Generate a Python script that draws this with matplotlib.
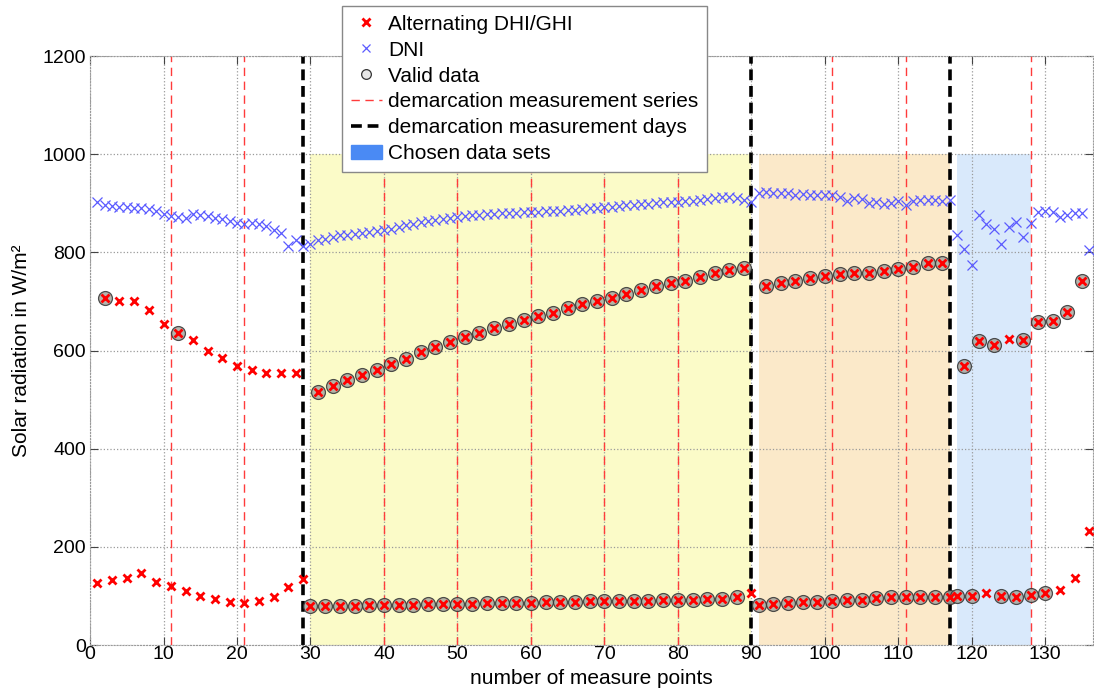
import numpy as np
from matplotlib import pyplot as plt
from matplotlib.lines import Line2D
from matplotlib.patches import Patch

plt.rcParams['font.family'] = ['Liberation Sans', 'DejaVu Sans']

# measure point index
points = np.arange(1, 137)

# alternating DHI / GHI readings (W/m²), one per measure point
alt_values = [
    127, 708, 132, 701, 137, 701, 146, 682, 129, 654,
    120, 635, 110, 621, 100, 599, 93, 585, 87, 568,
    85, 560, 90, 555, 97, 554, 118, 554, 134, 79,
    516, 79, 528, 80, 540, 80, 550, 81, 560, 82,
    572, 82, 583, 82, 598, 83, 608, 84, 617, 84,
    627, 84, 635, 85, 646, 85, 654, 86, 662, 86,
    671, 87, 677, 88, 686, 88, 694, 89, 701, 89,
    708, 89, 716, 90, 723, 90, 731, 91, 737, 91,
    742, 92, 749, 93, 757, 94, 764, 97, 769, 105,
    81, 732, 83, 737, 85, 742, 87, 748, 88, 752,
    90, 755, 92, 757, 92, 757, 95, 762, 97, 767,
    97, 771, 97, 778, 97, 779, 97, 100, 569, 100,
    619, 107, 612, 100, 623, 98, 621, 102, 659, 105,
    661, 113, 679, 137, 742, 232,
]

# direct normal irradiance (W/m²)
dni_values = [
    903, 897, 895, 893, 892, 891, 890, 888, 884, 878,
    875, 872, 871, 879, 876, 874, 871, 868, 864, 860,
    858, 859, 857, 853, 846, 840, 812, 826, 812, 818,
    825, 828, 832, 835, 836, 838, 840, 842, 843, 846,
    848, 852, 855, 858, 862, 864, 866, 868, 870, 873,
    874, 876, 877, 878, 879, 880, 880, 881, 882, 883,
    883, 884, 885, 885, 886, 887, 889, 890, 891, 892,
    893, 894, 896, 897, 898, 899, 900, 902, 903, 903,
    904, 905, 907, 908, 910, 912, 912, 910, 906, 902,
    920, 922, 921, 920, 921, 917, 918, 917, 916, 917,
    916, 913, 905, 910, 909, 901, 902, 899, 900, 905,
    896, 904, 906, 906, 906, 905, 906, 835, 806, 774,
    876, 858, 847, 818, 852, 861, 832, 859, 883, 884,
    882, 873, 876, 881, 880, 805,
]

# points that passed the validity check
valid_points = ([2, 12] + list(range(30, 90)) + list(range(91, 122))
                + [123, 124, 126, 127, 128, 129, 130, 131, 133, 135])

series_marks = [11, 21, 40, 50, 60, 70, 80, 101, 111, 128]
day_marks = [29, 90, 117]
chosen_start = [30, 91, 118]
chosen_end = [90, 117, 128]
chosen_colors = ['#fbfbc8', '#fbe9c9', '#d9e9fb']

alt_values = np.array(alt_values)
dni_values = np.array(dni_values)
valid = np.isin(points, valid_points)

fig = plt.figure(figsize=(10.94, 6.98), dpi=100)
ax = fig.add_axes([0.0823, 0.0759, 0.9168, 0.8438])

for s, e, c in zip(chosen_start, chosen_end, chosen_colors):
    ax.fill_between([s, e], 0, 1000, color=c, lw=0, zorder=0.5)

ax.set_axisbelow('line')
ax.grid(True, ls=':', color='#9a9a9a', lw=0.9)

for m in series_marks:
    ax.axvline(m, color='#ff3b3b', ls=(0, (6, 4)), lw=1.0, zorder=2)
for m in day_marks:
    ax.axvline(m, color='black', ls=(0, (3, 1.6)), lw=2.6, zorder=2)

ax.plot(points, dni_values, 'x', color='#5b5bff', ms=7, mew=0.9, zorder=3)
ax.plot(points[valid], alt_values[valid], 'o', ms=10, mfc='#a8a8a0',
        mec='#333333', mew=0.9, alpha=0.85, zorder=3)
ax.plot(points, alt_values, 'x', color='red', ms=6, mew=2, zorder=4)

ax.set_xlim(0, 136.5)
ax.set_ylim(0, 1200)
ax.set_xticks(np.arange(0, 131, 10))
ax.set_yticks(np.arange(0, 1201, 200))
ax.tick_params(direction='in', length=6, color='#444444', labelsize=14,
               top=True, right=True, pad=3)
ax.tick_params(axis='x', pad=1)
for sp in ax.spines.values():
    sp.set_color('#9a9a9a')
    sp.set_linestyle(':')

ax.set_xlabel('number of measure points', fontsize=15)
ax.xaxis.set_label_coords(0.5, -0.041)
ax.set_ylabel('Solar radiation in W/m²', fontsize=15, labelpad=8)

handles = [
    Line2D([], [], marker='x', ls='', color='red', ms=6, mew=2),
    Line2D([], [], marker='x', ls='', color='#5b5bff', ms=6, mew=0.9),
    Line2D([], [], marker='o', ls='', mfc='#e6e6e6', mec='#333333', ms=7, mew=0.9),
    Line2D([], [], color='#ff3b3b', ls=(0, (6, 4)), lw=1.0),
    Line2D([], [], color='black', ls=(0, (3, 1.6)), lw=2.6),
    Patch(facecolor='#4a8af4', edgecolor='#4a8af4'),
]
labels = ['Alternating DHI/GHI', 'DNI', 'Valid data',
          'demarcation measurement series', 'demarcation measurement days',
          'Chosen data sets']
leg = fig.legend(handles, labels, loc='upper left',
                 bbox_to_anchor=(0.3126, 0.9914), fontsize=15,
                 frameon=True, fancybox=False, framealpha=1,
                 edgecolor='#888888', handlelength=1.5, handletextpad=0.3,
                 labelspacing=0.33, borderpad=0.42, borderaxespad=0)
leg.get_frame().set_linewidth(1.0)
leg.set_zorder(10)

fig.savefig('out.png', dpi=100)
